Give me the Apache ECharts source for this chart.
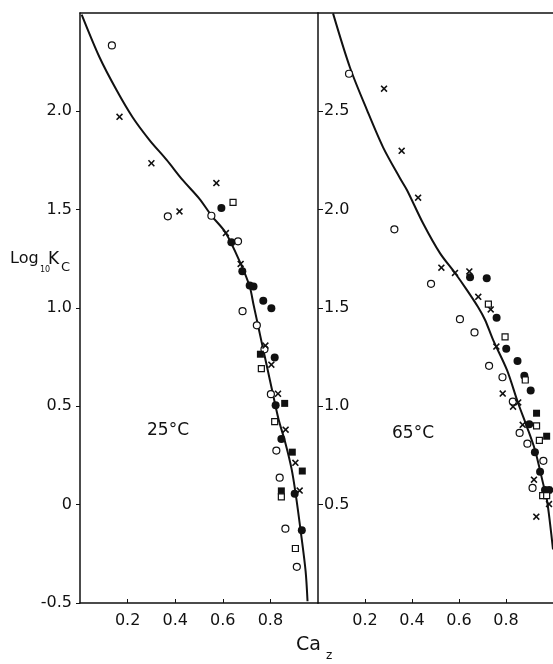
<!DOCTYPE html>
<html>
<head>
<meta charset="utf-8">
<title>Log10 Kc vs Caz</title>
<script src="https://cdn.jsdelivr.net/npm/echarts@6/dist/echarts.min.js"></script>
<style>
  html, body { margin: 0; padding: 0; background: #fff; }
  #chart { width: 553px; height: 664px; }
</style>
</head>
<body>
<div id="chart"></div>
<script>
// x ticks shared by both panels, y ticks per panel
const xTicks = [0, 0.2, 0.4, 0.6, 0.8, 1.0]
const leftYTicks = [-0.5, 0, 0.5, 1.0, 1.5, 2.0, 2.5]
const rightYTicks = [0, 0.5, 1.0, 1.5, 2.0, 2.5, 3.0]
const panelLabels = ['25°C', '65°C']

// 25 °C panel
const leftOpenCircle = [[0.134, 2.335], [0.369, 1.466], [0.552, 1.469], [0.664, 1.339], [0.683, 0.984],
  [0.743, 0.912], [0.775, 0.79], [0.802, 0.562], [0.825, 0.275], [0.839, 0.137], [0.863, -0.122], [0.911, -0.316]]
const leftCross = [[0.166, 1.972], [0.300, 1.736], [0.573, 1.635], [0.418, 1.491], [0.613, 1.381], [0.675, 1.224],
  [0.779, 0.809], [0.804, 0.712], [0.832, 0.564], [0.864, 0.381], [0.905, 0.213], [0.923, 0.072]]
const leftFilledCircle = [[0.594, 1.508], [0.636, 1.334], [0.682, 1.187], [0.713, 1.115], [0.729, 1.109],
  [0.770, 1.037], [0.804, 0.999], [0.818, 0.748], [0.822, 0.505], [0.846, 0.334], [0.902, 0.056], [0.932, -0.130]]
const leftFilledSquare = [[0.758, 0.765], [0.860, 0.515], [0.892, 0.267], [0.934, 0.171], [0.846, 0.07]]
const leftOpenSquare = [[0.643, 1.537], [0.762, 0.692], [0.818, 0.422], [0.905, -0.223], [0.846, 0.04]]
const leftCurve = [[0.007, 2.492], [0.082, 2.275], [0.154, 2.107], [0.221, 1.970], [0.292, 1.854], [0.364, 1.753],
  [0.431, 1.651], [0.502, 1.555], [0.553, 1.469], [0.612, 1.383], [0.675, 1.226], [0.713, 1.109], [0.729, 1.018],
  [0.747, 0.917], [0.767, 0.805], [0.788, 0.689], [0.809, 0.572], [0.834, 0.436], [0.864, 0.309], [0.889, 0.182],
  [0.906, 0.056], [0.927, -0.132], [0.948, -0.339], [0.956, -0.491]]

// 65 °C panel
const rightOpenCircle = [[0.132, 2.691], [0.325, 1.900], [0.481, 1.623], [0.604, 1.443], [0.666, 1.376],
  [0.728, 1.206], [0.785, 1.148], [0.829, 1.024], [0.858, 0.865], [0.891, 0.810], [0.959, 0.723], [0.913, 0.585]]
const rightCross = [[0.281, 2.615], [0.356, 2.299], [0.426, 2.061], [0.525, 1.705], [0.583, 1.678], [0.644, 1.686],
  [0.682, 1.557], [0.735, 1.493], [0.759, 1.304], [0.786, 1.065], [0.852, 1.020], [0.830, 0.998], [0.871, 0.906],
  [0.919, 0.627], [0.983, 0.503], [0.929, 0.439]]
const rightFilledCircle = [[0.647, 1.656], [0.718, 1.651], [0.760, 1.451], [0.801, 1.293], [0.849, 1.231],
  [0.878, 1.156], [0.905, 1.080], [0.899, 0.909], [0.923, 0.766], [0.945, 0.668], [0.966, 0.574], [0.984, 0.575]]
const rightFilledSquare = [[0.930, 0.965], [0.973, 0.848]]
const rightOpenSquare = [[0.725, 1.520], [0.796, 1.353], [0.882, 1.134], [0.930, 0.901], [0.942, 0.827],
  [0.956, 0.546], [0.973, 0.546]]
const rightCurve = [[0.064, 2.998], [0.136, 2.723], [0.209, 2.505], [0.277, 2.317], [0.349, 2.160], [0.379, 2.099],
  [0.447, 1.931], [0.519, 1.779], [0.583, 1.678], [0.634, 1.591], [0.681, 1.505], [0.711, 1.439], [0.745, 1.338],
  [0.804, 1.185], [0.851, 1.018], [0.889, 0.896], [0.923, 0.779], [0.957, 0.612], [0.974, 0.525], [0.987, 0.409],
  [1.0, 0.272]]

const INK = '#111'
const FONT = 'DejaVu Sans'
const CROSS = 'path://M0,1.6L1.6,0L5,3.4L8.4,0L10,1.6L6.6,5L10,8.4L8.4,10L5,6.6L1.6,10L0,8.4L3.4,5Z'

const chart = echarts.init(document.getElementById('chart'))

function fmt(v) {
  return v === 0 ? '0' : v.toFixed(1)
}

function marks(data, idx, kind) {
  const open = kind === 'openCircle' || kind === 'openSquare'
  const symbol = { openCircle: 'circle', filledCircle: 'circle', openSquare: 'rect', filledSquare: 'rect', cross: CROSS }[kind]
  const size = { openCircle: 7, filledCircle: 8, openSquare: 6, filledSquare: 7, cross: 7 }[kind]
  return {
    type: 'scatter',
    xAxisIndex: idx,
    yAxisIndex: idx,
    data: data,
    symbol: symbol,
    symbolSize: size,
    itemStyle: {
      color: open ? '#fff' : INK,
      borderColor: INK,
      borderWidth: open ? 1.2 : 0,
      opacity: 1
    },
    z: 3,
    silent: true
  }
}

function curve(data, idx) {
  return {
    type: 'line',
    xAxisIndex: idx,
    yAxisIndex: idx,
    data: data,
    smooth: 0.3,
    showSymbol: false,
    lineStyle: { color: INK, width: 2 },
    clip: true,
    z: 2,
    silent: true
  }
}

function bottomAxis(grid) {
  return {
    type: 'value', gridIndex: grid, min: xTicks[0], max: xTicks[xTicks.length - 1], interval: 0.2,
    splitLine: { show: false },
    axisLine: { onZero: false, lineStyle: { color: INK, width: 1.5 } },
    axisTick: { inside: true, length: 4, lineStyle: { color: INK } },
    axisLabel: {
      showMinLabel: false, showMaxLabel: false, margin: 10,
      color: INK, fontFamily: FONT, fontSize: 16,
      formatter: fmt
    }
  }
}

function topAxis(grid) {
  return {
    type: 'value', gridIndex: grid, position: 'top', min: 0, max: 1,
    splitLine: { show: false },
    axisLine: { onZero: false, lineStyle: { color: INK, width: 1.5 } },
    axisTick: { show: false },
    axisLabel: { show: false }
  }
}

function txt(text, left, top, size) {
  return {
    type: 'text', left: left, top: top, silent: true,
    style: { text: text, fill: INK, font: size + 'px "' + FONT + '"' }
  }
}

chart.setOption({
  backgroundColor: '#fff',
  animation: false,
  grid: [
    { left: 80, top: 13, width: 238, height: 590 },
    { left: 318, top: 13, width: 235, height: 590 }
  ],
  xAxis: [bottomAxis(0), bottomAxis(1), topAxis(0), topAxis(1)],
  yAxis: [
    {
      type: 'value', gridIndex: 0, min: leftYTicks[0], max: leftYTicks[leftYTicks.length - 1], interval: 0.5,
      splitLine: { show: false },
      axisLine: { onZero: false, lineStyle: { color: INK, width: 1.5 } },
      axisTick: { length: 4, lineStyle: { color: INK } },
      axisLabel: { showMaxLabel: false, margin: 8, color: INK, fontFamily: FONT, fontSize: 16, formatter: fmt }
    },
    {
      type: 'value', gridIndex: 1, min: rightYTicks[0], max: rightYTicks[rightYTicks.length - 1], interval: 0.5,
      splitLine: { show: false },
      axisLine: { onZero: false, lineStyle: { color: INK, width: 1.5 } },
      axisTick: { inside: true, length: 5, lineStyle: { color: INK } },
      axisLabel: {
        inside: true, showMinLabel: false, showMaxLabel: false, margin: 6,
        color: INK, fontFamily: FONT, fontSize: 16, formatter: fmt
      }
    }
  ],
  graphic: [
    txt('Log', 10, 251, 16),
    txt('10', 40, 266, 8),
    txt('K', 48, 251, 17),
    txt('C', 61, 261, 13),
    txt('Ca', 296, 636, 19),
    txt('z', 326, 650, 12),
    txt(panelLabels[0], 147, 422, 17),
    txt(panelLabels[1], 392, 425, 17)
  ],
  series: [
    curve(leftCurve, 0),
    marks(leftOpenCircle, 0, 'openCircle'),
    marks(leftCross, 0, 'cross'),
    marks(leftFilledCircle, 0, 'filledCircle'),
    marks(leftFilledSquare, 0, 'filledSquare'),
    marks(leftOpenSquare, 0, 'openSquare'),
    curve(rightCurve, 1),
    marks(rightOpenCircle, 1, 'openCircle'),
    marks(rightCross, 1, 'cross'),
    marks(rightFilledCircle, 1, 'filledCircle'),
    marks(rightFilledSquare, 1, 'filledSquare'),
    marks(rightOpenSquare, 1, 'openSquare')
  ]
})
</script>
</body>
</html>
